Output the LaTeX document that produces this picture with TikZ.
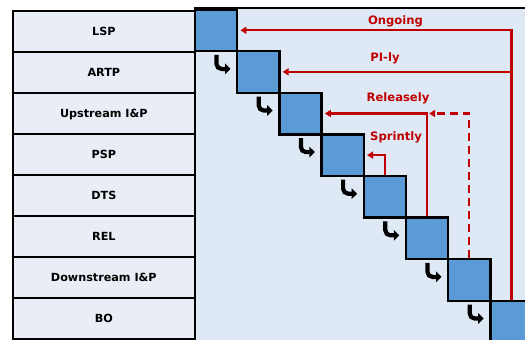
\documentclass[tikz,border=0pt]{standalone}
\usepackage{fontspec}
\setmainfont{DejaVu Sans}
\usetikzlibrary{arrows.meta}
\definecolor{rowfill}{HTML}{E9EDF6}
\definecolor{panelfill}{HTML}{DEE9F5}
\definecolor{sqfill}{HTML}{5B9BD5}
\definecolor{flowred}{HTML}{C00000}
\tikzset{
  rowbox/.style={draw=black, line width=2.2pt, fill=rowfill, minimum width=182.3pt, minimum height=41pt,
    inner sep=0pt, text height=8pt, text depth=0pt, font=\fontsize{11.2}{12}\selectfont\bfseries},
  sqbox/.style={draw=black, line width=2.4pt, fill=sqfill, minimum width=42.2pt, minimum height=41.6pt, inner sep=0pt},
  flow/.style={draw=flowred, line width=2.2pt, -{Triangle[length=6pt,width=7pt]}, shorten >=2pt},
  flowlabel/.style={text=flowred, font=\fontsize{11.6}{12}\selectfont\bfseries, inner sep=0pt},
  hookarrow/.style={draw=black, line width=4.2pt, rounded corners=5pt, -{Triangle[length=5.5pt,width=10.5pt]}},
}
\begin{document}
\begin{tikzpicture}[x=1pt,y=-1pt]
\useasboundingbox (0,0) rectangle (525,340);
\clip (0,0) rectangle (525,340);
% right panel
\fill[panelfill] (195,8) rectangle (530,350);
\draw[black, line width=2.4pt] (195,350) -- (195,8) -- (530,8);
% left table
\foreach \t [count=\i from 0] in {LSP,ARTP,Upstream I\&P,PSP,DTS,REL,Downstream I\&P,BO}{
  \node[rowbox] (r\i) at (103.85, 10.7+41*\i+20.5) {\t};
}
% squares
\foreach \i in {0,...,7}{
  \node[sqbox] (s\i) at (195+42.2*\i+21.1, 9.5+41.6*\i+20.8) {};
}
% hook arrows
\foreach \i in {1,...,7}{
  \coordinate (h\i) at ([xshift=-19.5pt,yshift=-5pt]s\i.north west);
  \draw[hookarrow] (h\i) -- ++(0,14) -- ++(14,0);
}
% red flows
\draw[flow] (s7.north) |- (s0.east);
\draw[flow] (s1.east -| s7.north) -- (s1.east);
\draw[flow] (s5.north) |- (s2.east);
\draw[flow, dash pattern=on 8pt off 5pt] (s6.north) |- (s2.east -| s5.north);
\draw[flow] (s4.north) |- (s3.east);
% labels
\node[flowlabel] (l0) at (395.5,21.5) {Ongoing};
\node[flowlabel] (l1) at (385,58) {PI-ly};
\node[flowlabel] (l2) at (398,98) {Releasely};
\node[flowlabel] (l3) at (396,137) {Sprintly};
\end{tikzpicture}
\end{document}
